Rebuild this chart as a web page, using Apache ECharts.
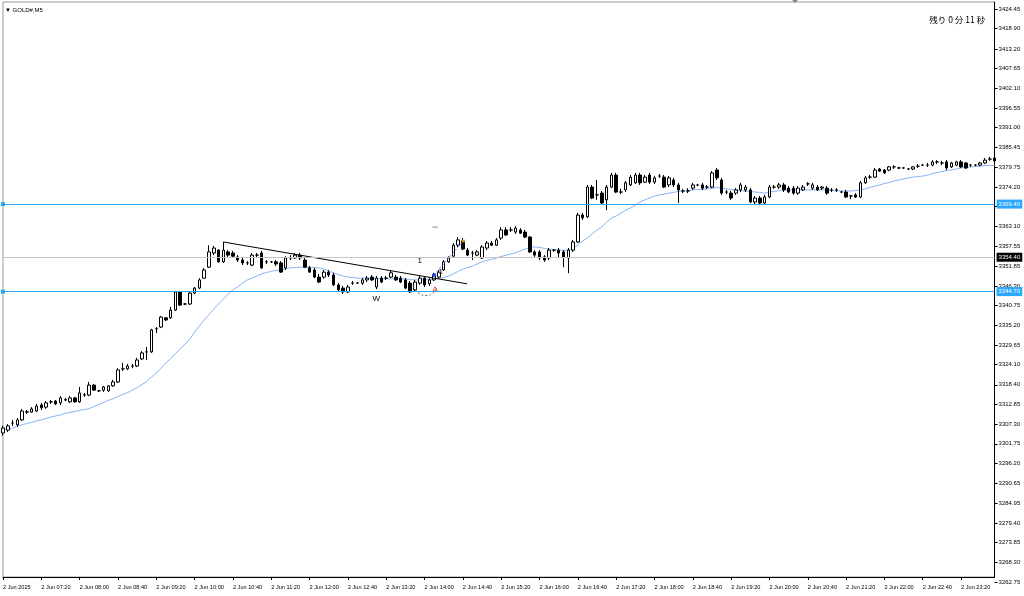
<!DOCTYPE html>
<html><head><meta charset="utf-8">
<script src="https://cdn.jsdelivr.net/npm/echarts@6/dist/echarts.min.js"></script>
<style>html,body{margin:0;padding:0;background:#fff;}#c{width:1024px;height:596px;}</style>
</head><body><div id="c"></div>
<script>
// ---- data ----
const symbolTitle = '▼ GOLD#,M5';
const timerText = '残り 0 分 11 秒';
const startTime = [6, 40]; // first bar 06:40, M5 bars
const xTickLabels = ['2 Jun 2025','2 Jun 07:20','2 Jun 08:00','2 Jun 08:40','2 Jun 09:20','2 Jun 10:00','2 Jun 10:40','2 Jun 11:20','2 Jun 12:00','2 Jun 12:40','2 Jun 13:20','2 Jun 14:00','2 Jun 14:40','2 Jun 15:20','2 Jun 16:00','2 Jun 16:40','2 Jun 17:20','2 Jun 18:00','2 Jun 18:40','2 Jun 19:20','2 Jun 20:00','2 Jun 20:40','2 Jun 21:20','2 Jun 22:00','2 Jun 22:40','2 Jun 23:20'];
const priceTicks = [3262.75,3268.30,3273.85,3279.40,3284.95,3290.65,3296.20,3301.75,3307.30,3312.85,3318.40,3324.10,3329.65,3335.20,3340.75,3346.30,3351.85,3357.55,3363.10,3368.65,3374.20,3379.75,3385.45,3391.00,3396.55,3402.10,3407.65,3413.20,3418.90,3424.45];
// [open, close, low, high]
const candles = [
[3304.8,3306.2,3304.0,3306.8],[3305.6,3306.8,3305.1,3307.3],[3307.6,3307.6,3306.8,3308.5],[3307.1,3308.5,3306.5,3309.0],[3308.5,3311.0,3308.2,3311.6],
[3310.7,3310.8,3310.2,3311.3],[3310.7,3311.6,3310.5,3312.1],[3311.0,3312.4,3310.7,3313.0],[3312.7,3311.9,3311.3,3313.3],[3312.1,3313.3,3311.6,3313.8],
[3313.6,3313.6,3313.0,3314.1],[3313.8,3313.0,3312.7,3314.1],[3313.3,3314.7,3312.7,3315.2],[3314.1,3314.2,3313.8,3314.7],[3313.6,3314.7,3313.3,3315.2],
[3314.7,3313.6,3313.3,3315.0],[3313.6,3316.1,3313.3,3317.8],[3315.5,3315.6,3315.0,3316.1],[3315.5,3318.3,3315.2,3319.2],[3318.3,3316.9,3316.7,3318.6],
[3316.7,3316.7,3316.4,3316.9],[3316.9,3317.8,3316.4,3318.1],[3316.7,3318.1,3316.4,3318.3],[3318.1,3319.2,3317.8,3319.8],[3319.2,3322.6,3318.9,3323.1],
[3322.9,3322.9,3322.3,3324.6],[3322.9,3323.7,3322.6,3324.3],[3323.7,3323.7,3323.1,3324.3],[3323.7,3325.4,3323.4,3326.0],[3325.7,3327.4,3325.4,3327.9],
[3327.7,3327.7,3325.4,3329.1],[3327.7,3333.9,3327.4,3334.2],[3334.2,3334.2,3333.0,3334.7],[3334.7,3337.5,3334.4,3337.8],[3337.3,3336.7,3336.4,3337.5],
[3337.3,3339.5,3337.0,3340.4],[3339.5,3344.6,3339.2,3344.9],[3344.6,3340.9,3340.6,3344.9],[3341.2,3341.2,3340.9,3341.5],[3341.2,3344.3,3340.9,3344.6],
[3344.3,3345.7,3344.0,3346.0],[3345.7,3348.0,3345.4,3348.5],[3348.5,3350.8,3348.3,3351.4],[3351.6,3355.9,3351.4,3357.8],[3355.6,3357.0,3355.0,3357.6],
[3356.4,3353.1,3352.8,3356.7],[3353.1,3356.4,3352.8,3358.7],[3355.9,3355.0,3354.5,3356.4],[3355.6,3354.7,3354.2,3356.2],[3354.5,3353.6,3353.1,3355.0],
[3353.6,3352.8,3352.2,3354.2],[3352.8,3352.8,3352.2,3353.3],[3352.2,3355.0,3351.9,3355.6],[3355.0,3355.0,3354.2,3355.6],[3355.6,3351.4,3351.1,3356.2],
[3353.1,3353.1,3352.5,3353.6],[3353.1,3353.1,3352.8,3353.3],[3353.1,3352.5,3351.9,3353.6],[3352.8,3350.2,3350.0,3353.3],[3351.4,3354.2,3350.8,3354.7],
[3354.2,3354.2,3353.6,3355.0],[3354.2,3355.0,3353.9,3355.6],[3355.0,3354.2,3353.6,3355.6],[3353.6,3351.6,3351.4,3354.2],[3351.4,3350.2,3350.0,3351.9],
[3350.8,3348.8,3348.5,3351.4],[3348.8,3347.4,3347.1,3349.7],[3348.8,3350.2,3348.3,3350.8],[3350.2,3349.4,3348.8,3350.8],[3349.4,3346.6,3346.3,3350.0],
[3346.6,3345.2,3344.6,3347.1],[3345.7,3344.6,3344.0,3346.3],[3344.6,3346.0,3344.3,3346.6],[3347.1,3347.1,3346.6,3347.7],[3347.1,3347.1,3346.9,3347.4],
[3347.1,3348.0,3346.6,3348.5],[3348.0,3348.5,3347.4,3349.1],[3348.8,3348.0,3347.7,3349.4],[3346.0,3348.5,3345.4,3349.1],[3348.5,3347.4,3347.1,3349.1],
[3348.5,3348.5,3348.0,3349.1],[3348.8,3350.0,3348.5,3350.8],[3348.8,3348.0,3347.7,3349.4],[3348.5,3347.4,3347.1,3349.1],[3348.0,3345.7,3345.4,3348.5],
[3347.1,3344.6,3344.3,3347.7],[3345.2,3347.4,3344.6,3348.0],[3347.1,3348.5,3346.6,3349.1],[3348.5,3346.6,3346.0,3349.1],[3346.9,3348.0,3346.3,3348.5],
[3348.0,3349.4,3347.7,3350.0],[3348.8,3350.2,3348.5,3350.8],[3350.8,3353.1,3350.5,3353.6],[3353.1,3354.2,3352.8,3354.7],[3354.7,3357.8,3354.5,3358.4],
[3357.8,3359.3,3357.3,3360.1],[3359.0,3356.7,3356.4,3359.8],[3356.4,3355.0,3354.7,3357.0],[3355.6,3355.6,3353.6,3356.2],[3355.0,3355.9,3354.7,3356.4],
[3354.2,3357.3,3353.9,3357.8],[3357.0,3358.4,3356.4,3359.0],[3358.4,3357.8,3357.6,3359.0],[3357.8,3359.3,3357.6,3359.8],[3359.8,3362.1,3359.3,3362.9],
[3362.1,3360.7,3360.4,3362.9],[3362.1,3362.1,3361.5,3362.9],[3361.5,3362.6,3361.0,3363.2],[3362.1,3361.2,3361.0,3362.6],[3361.5,3360.1,3359.8,3362.1],
[3360.1,3355.9,3355.6,3360.4],[3355.9,3355.0,3354.5,3356.4],[3355.9,3354.2,3353.6,3356.4],[3354.5,3353.6,3353.1,3355.0],[3354.2,3356.4,3353.6,3357.0],
[3356.4,3356.4,3355.9,3356.7],[3356.4,3355.6,3354.2,3357.0],[3355.9,3354.5,3351.6,3356.4],[3354.2,3356.4,3349.9,3357.0],[3356.4,3358.7,3355.9,3359.3],
[3358.7,3366.3,3358.4,3366.9],[3366.3,3365.5,3364.9,3366.9],[3365.8,3374.2,3365.5,3374.8],[3374.2,3371.1,3370.8,3374.8],[3372.0,3372.0,3370.6,3376.2],
[3372.5,3369.7,3369.4,3373.1],[3370.6,3374.2,3367.7,3374.8],[3374.2,3377.6,3373.9,3378.2],[3377.6,3372.8,3372.5,3378.2],[3372.8,3372.8,3372.2,3373.7],
[3373.4,3375.4,3372.8,3375.9],[3374.8,3377.0,3374.5,3377.6],[3375.4,3377.6,3375.1,3378.2],[3377.6,3375.4,3374.8,3378.2],[3375.6,3377.0,3375.4,3377.6],
[3377.6,3375.6,3375.1,3378.2],[3375.6,3376.8,3375.1,3377.3],[3377.3,3377.3,3376.8,3377.9],[3377.0,3374.2,3373.9,3377.6],[3374.8,3376.8,3374.2,3377.3],
[3376.2,3374.8,3374.2,3376.8],[3374.8,3373.4,3369.7,3375.4],[3373.1,3373.1,3372.5,3373.7],[3373.1,3373.1,3372.5,3373.9],[3373.9,3374.8,3373.4,3375.4],
[3374.8,3374.8,3374.5,3375.1],[3374.8,3373.9,3373.4,3375.4],[3374.2,3374.2,3373.7,3374.8],[3374.2,3378.2,3373.9,3378.7],[3379.0,3376.8,3376.2,3379.6],
[3376.2,3372.5,3372.0,3376.8],[3372.8,3372.8,3372.2,3373.4],[3372.5,3371.1,3370.6,3373.1],[3372.5,3373.4,3372.0,3373.9],[3373.4,3374.8,3372.8,3375.4],
[3373.4,3374.2,3372.8,3374.8],[3373.4,3370.0,3369.7,3373.9],[3370.0,3371.1,3369.4,3371.7],[3371.1,3369.7,3369.1,3371.7],[3369.7,3371.4,3369.4,3372.0],
[3371.4,3374.2,3371.1,3374.8],[3374.2,3374.2,3373.7,3374.8],[3374.2,3374.8,3373.7,3375.4],[3374.8,3373.4,3372.8,3375.4],[3373.9,3372.8,3372.5,3374.5],
[3373.9,3372.5,3372.0,3374.5],[3372.5,3373.9,3372.0,3374.5],[3373.4,3374.2,3373.1,3374.8],[3375.1,3375.1,3374.5,3375.6],[3373.9,3374.8,3373.4,3375.4],
[3374.2,3373.4,3373.1,3374.8],[3373.9,3374.2,3373.4,3374.5],[3373.9,3372.5,3372.0,3374.5],[3373.4,3373.4,3372.8,3373.9],[3373.4,3373.4,3372.8,3373.9],
[3372.8,3372.8,3372.5,3373.1],[3372.8,3371.4,3371.1,3373.4],[3371.7,3371.7,3370.8,3372.0],[3372.0,3371.4,3371.1,3372.5],[3371.4,3375.4,3371.1,3375.9],
[3375.4,3376.8,3375.1,3377.3],[3377.0,3377.0,3376.5,3377.6],[3377.0,3379.0,3376.8,3379.6],[3379.3,3378.7,3378.5,3379.6],[3379.0,3378.2,3377.9,3379.3],
[3379.0,3379.9,3378.7,3380.1],[3379.9,3379.9,3379.3,3380.4],[3379.6,3379.6,3379.3,3379.9],[3379.6,3379.6,3379.3,3379.9],[3379.3,3379.3,3379.0,3379.6],
[3379.3,3379.9,3379.0,3380.1],[3380.1,3380.1,3379.6,3380.7],[3380.4,3380.4,3380.1,3380.7],[3380.4,3380.4,3379.9,3381.0],[3380.4,3381.3,3380.1,3381.8],
[3381.3,3381.3,3380.7,3381.8],[3381.0,3381.0,3380.4,3381.6],[3381.3,3379.6,3379.0,3381.8],[3379.9,3381.0,3379.6,3381.3],[3380.4,3381.3,3380.1,3381.6],
[3381.3,3379.9,3379.6,3381.8],[3381.0,3379.6,3379.3,3381.3],[3380.4,3380.4,3379.9,3380.7],[3380.4,3380.4,3380.1,3380.7],[3380.4,3381.0,3380.1,3381.3],
[3381.0,3381.8,3380.7,3382.4],[3382.1,3382.1,3381.6,3382.7],[3382.4,3381.6,3381.3,3382.7]
];
const maValues = [3305.6,3305.9,3306.2,3306.8,3307.1,3307.5,3307.8,3308.2,3308.5,3308.9,
3309.3,3309.6,3309.9,3310.3,3310.6,3310.9,3311.2,3311.4,3311.7,3312.3,
3312.8,3313.4,3314.0,3314.5,3315.1,3315.7,3316.2,3316.9,3317.6,3318.5,
3319.3,3320.6,3321.7,3323.1,3324.6,3325.8,3327.2,3328.5,3329.9,3331.3,
3333.3,3335.0,3336.7,3338.2,3339.8,3341.2,3342.6,3344.0,3345.2,3346.1,
3347.1,3348.0,3348.5,3349.1,3349.7,3350.1,3350.4,3350.7,3350.8,3351.1,
3351.4,3351.5,3351.6,3351.6,3351.6,3351.5,3351.4,3351.1,3350.5,3350.0,
3349.5,3349.1,3348.8,3348.7,3348.5,3348.5,3348.5,3348.5,3348.4,3348.4,
3348.3,3348.3,3348.3,3348.3,3348.3,3348.1,3348.0,3348.0,3348.0,3348.1,
3348.3,3348.4,3348.7,3349.1,3349.7,3350.4,3351.0,3351.5,3351.9,3352.5,
3353.1,3353.5,3353.8,3354.2,3354.6,3355.0,3355.3,3355.7,3356.2,3356.7,
3357.2,3357.3,3357.2,3356.9,3356.7,3356.6,3356.4,3356.4,3356.4,3357.0,
3357.8,3359.0,3359.8,3361.0,3362.1,3362.9,3364.3,3365.5,3366.0,3366.9,
3367.7,3368.3,3369.1,3370.0,3370.6,3371.1,3371.7,3372.0,3372.2,3372.5,
3372.7,3373.0,3373.1,3373.2,3373.4,3373.5,3373.5,3373.7,3373.8,3374.1,
3373.9,3373.7,3373.5,3373.4,3373.2,3373.1,3373.0,3372.8,3372.7,3372.5,
3372.7,3373.0,3373.2,3373.4,3373.4,3373.4,3373.4,3373.4,3373.4,3373.4,
3373.4,3373.4,3373.4,3373.2,3373.2,3373.1,3373.1,3373.1,3373.2,3373.4,
3373.7,3374.1,3374.5,3374.8,3375.2,3375.5,3375.9,3376.2,3376.5,3376.8,
3377.0,3377.2,3377.3,3377.6,3378.0,3378.3,3378.6,3378.9,3379.0,3379.3,
3379.6,3379.7,3379.9,3380.0,3380.1,3380.3,3380.3,3380.3];
const hLines = [
  {price: 3369.40, kind: 'support'},
  {price: 3344.70, kind: 'support'},
  {price: 3354.40, kind: 'bid'}
];
// annotation objects, x in bar index units
const trendLine = [[46, 3358.7], [96.9, 3346.9]];
const waveLine = [[90.0, 3349.4], [96.1, 3359.0]];
const waveArc = [[85.6, 3346.2], [86.8, 3344.3], [88.4, 3343.6], [89.8, 3344.3], [90.5, 3345.6]];
const textMarks = [{x: 77.9, y: 3342.6, t: 'W'}, {x: 87.0, y: 3353.4, t: '1'}, {x: 91.4, y: 3350.3, t: '1'}];
const blueDot = [90.0, 3349.4];
const orangeDot = [96.1, 3359.0];
const redMark = [90.2, 3345.5];
const blueDash = [90.2, 3362.9];

// ---- build ----
const categories = candles.map((_, i) => {
  const m = startTime[0] * 60 + startTime[1] + 5 * i;
  return '2 Jun ' + String(Math.floor(m / 60)).padStart(2, '0') + ':' + String(m % 60).padStart(2, '0');
});
const N = candles.length;
const FONT = 'Liberation Sans';
const LBLUE = '#2aa8ff';

const chart = echarts.init(document.getElementById('c'), null, {renderer: 'canvas'});
const option = {
  animation: false,
  backgroundColor: '#ffffff',
  textStyle: {fontFamily: FONT},
  title: [
    {text: symbolTitle, left: 0, top: 2, textStyle: {fontSize: 6, fontWeight: 'normal', color: '#000', fontFamily: FONT}},
    {text: timerText, right: 34, top: 11, textStyle: {fontSize: 8.5, fontWeight: 'normal', color: '#000', fontFamily: 'Noto Sans CJK JP'}}
  ],
  graphic: [
    {type: 'polygon', shape: {points: [[792, 0], [798, 0], [795, 3]]}, style: {fill: '#8a8a8a'}, silent: true}
  ],
  grid: [
    {left: 3, top: 2, width: 991.6, height: 575, show: true, borderColor: '#9a9a9a', borderWidth: 1, backgroundColor: 'transparent'},
    {left: 3, top: 9, width: 991.6, height: 573, show: false}
  ],
  xAxis: [
    {type: 'category', gridIndex: 0, data: categories, boundaryGap: false,
     axisLine: {onZero: false, lineStyle: {color: '#000', width: 1}},
     axisTick: {interval: 7, length: 3, lineStyle: {color: '#000'}},
     axisLabel: {interval: 7, align: 'left', fontSize: 5.6, color: '#000', margin: 7,
       formatter: (v, idx) => xTickLabels[Math.round(idx / 8)] || ''},
     splitLine: {show: false}},
    {type: 'value', gridIndex: 0, min: 0, max: N - 1, show: false, axisLine: {onZero: false}},
    {type: 'value', gridIndex: 1, min: 0, max: 1, show: false, axisLine: {onZero: false}}
  ],
  yAxis: [
    {type: 'value', gridIndex: 0, position: 'right', min: 3264.16, max: 3426.43,
     axisLine: {show: true, onZero: false, lineStyle: {color: '#000'}}, axisTick: {show: false}, axisLabel: {show: false}, splitLine: {show: false}},
    {type: 'value', gridIndex: 1, position: 'right', min: priceTicks[0], max: priceTicks[priceTicks.length - 1],
     axisLine: {show: false, onZero: false},
     axisTick: {show: true, length: 3, customValues: priceTicks, lineStyle: {color: '#000'}},
     axisLabel: {show: true, customValues: priceTicks, fontSize: 6, color: '#000', margin: 4,
       formatter: v => Number(v).toFixed(2)},
     splitLine: {show: false}}
  ],
  series: [
    {type: 'candlestick', xAxisIndex: 0, yAxisIndex: 0, data: candles, barWidth: 3, clip: false,
     itemStyle: {color: '#ffffff', color0: '#000000', borderColor: '#000000', borderColor0: '#000000', borderWidth: 1},
     markLine: {silent: true, animation: false, symbol: ['none', 'none'],
       data: hLines.map(h => ({
         yAxis: h.price,
         symbol: h.kind === 'bid' ? 'none' : ['emptyCircle', 'emptyRect'],
         symbolSize: 4,
         lineStyle: {color: h.kind === 'bid' ? '#c4c4c4' : LBLUE, width: 1, type: 'solid'},
         label: {show: true, position: 'end', distance: 2, formatter: () => h.price.toFixed(2),
           fontSize: 6, fontFamily: FONT,
           color: '#ffffff',
           backgroundColor: h.kind === 'bid' ? '#000000' : LBLUE,
           padding: [2, 2, 1, 2]}
       }))}},
    {type: 'line', name: 'MA', xAxisIndex: 0, yAxisIndex: 0, data: maValues, symbol: 'none', smooth: false,
     lineStyle: {color: '#86b4f4', width: 1}, z: 1},
    {type: 'line', xAxisIndex: 1, yAxisIndex: 0, data: trendLine, symbol: 'none',
     lineStyle: {color: '#000', width: 1}, z: 4},
    {type: 'line', xAxisIndex: 1, yAxisIndex: 0, data: waveLine, symbol: 'none',
     lineStyle: {color: '#4a6cff', width: 1, type: [2, 2]}, z: 4},
    {type: 'line', xAxisIndex: 1, yAxisIndex: 0, data: waveArc, symbol: 'none', smooth: true,
     lineStyle: {color: '#666', width: 1, type: [2, 2]}, z: 4},
    {type: 'scatter', xAxisIndex: 1, yAxisIndex: 0, data: [blueDot], symbol: 'circle', symbolSize: 4,
     itemStyle: {color: '#1f3cff'}, z: 5},
    {type: 'scatter', xAxisIndex: 1, yAxisIndex: 0, data: [orangeDot], symbol: 'rect', symbolSize: 3,
     itemStyle: {color: '#f0a020'}, z: 5},
    {type: 'scatter', xAxisIndex: 1, yAxisIndex: 0, data: [redMark], symbol: 'triangle', symbolSize: 4,
     itemStyle: {color: 'transparent', borderColor: '#e04040', borderWidth: 1}, z: 5},
    {type: 'scatter', xAxisIndex: 1, yAxisIndex: 0, data: [blueDash], symbol: 'rect', symbolSize: [5, 1],
     itemStyle: {color: '#5060a0'}, z: 5},
    {type: 'custom', xAxisIndex: 1, yAxisIndex: 0, z: 10, clip: false,
     data: textMarks.map(t => [t.x, t.y]),
     renderItem: (params, api) => {
       const p = api.coord([api.value(0), api.value(1)]);
       return {type: 'text', x: p[0], y: p[1],
         style: {text: textMarks[params.dataIndex].t, fill: '#000', font: '8px "Liberation Sans"', align: 'center', verticalAlign: 'middle'}};
     }},
    {type: 'line', xAxisIndex: 2, yAxisIndex: 1, data: [], symbol: 'none'}
  ]
};
chart.setOption(option);
</script></body></html>
